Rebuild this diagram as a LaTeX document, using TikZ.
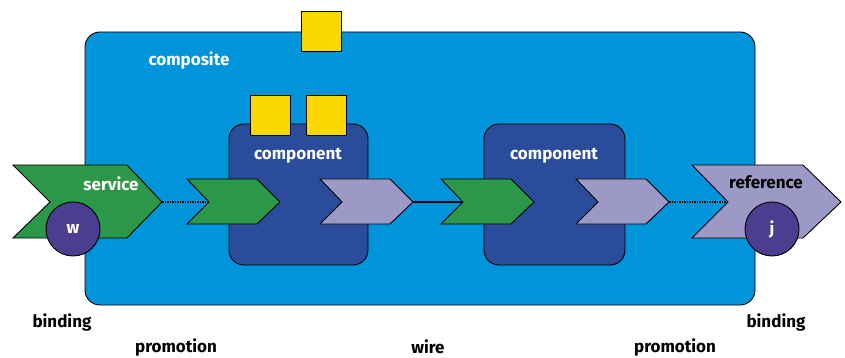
\documentclass[tikz,border=0pt]{standalone}
\usepackage{fontspec}
\setmainfont{Fira Sans}
\usepackage{tikz}
\usetikzlibrary{positioning,calc}
\definecolor{compblue}{HTML}{0095DA}
\definecolor{compnavy}{HTML}{2B4C9B}
\definecolor{portgreen}{HTML}{2A9749}
\definecolor{portlilac}{HTML}{9D99C6}
\definecolor{bindpurple}{HTML}{4B3D8F}
\definecolor{propyellow}{HTML}{F8D800}

\begin{document}
\begin{tikzpicture}[x=1pt,y=-1pt, line width=0.9pt, line join=miter,
  every node/.style={font=\bfseries\fontsize{17}{17}\selectfont,inner sep=0pt},
  prop/.style={draw,fill=propyellow},
  bindcirc/.style={draw,fill=bindpurple,circle,minimum size=54pt,text=white}]
\useasboundingbox (0,0) rectangle (845,358);
% composite and its property
\draw[fill=compblue,rounded corners=15pt] (85,32) rectangle (755,305);
\node[text=white] (composite) at (189,60) {composite};
\draw[prop] (301,11) rectangle (341,51);
% components with their properties
\draw[fill=compnavy,rounded corners=15pt] (229,124) rectangle (368,265);
\draw[fill=compnavy,rounded corners=15pt] (484,124) rectangle (625,265);
\draw[prop] (250,95) rectangle (290,135);
\draw[prop] (306,95) rectangle (346,135);
\node[text=white] (comp1) at (298,156) {component};
\node[text=white] (comp2) at (554,156) {component};
% service and reference of the composite
\draw[fill=portgreen] (13,165) -- (127,165) -- (162,202) coordinate (svc tip)
  -- (127,238) -- (13,238) -- (50,202) -- cycle;
\draw[fill=portlilac] (692,165) -- (803,165) -- (841,202)
  -- (803,238) -- (692,238) -- (728,202) coordinate (ref notch) -- cycle;
\node[text=white] (service) at (111,184) {service};
\node (reference) at (766,182) {reference};
\node[bindcirc] (w) at (73,229) {w};
\node[bindcirc] (j) at (772,229) {j};
% services and references of the components
\draw[fill=portgreen] (187,179) -- ++(70,0) -- ++(23,23) coordinate (s1 tip)
  -- ++(-23,22) -- ++(-70,0) -- ++(22,-22) coordinate (s1 notch) -- cycle;
\draw[fill=portlilac] (320,179) -- ++(70,0) -- ++(23,23) coordinate (r1 tip)
  -- ++(-23,22) -- ++(-70,0) -- ++(22,-22) coordinate (r1 notch) -- cycle;
\draw[fill=portgreen] (441,179) -- ++(70,0) -- ++(23,23) coordinate (s2 tip)
  -- ++(-23,22) -- ++(-70,0) -- ++(22,-22) coordinate (s2 notch) -- cycle;
\draw[fill=portlilac] (576,179) -- ++(70,0) -- ++(23,23) coordinate (r2 tip)
  -- ++(-23,22) -- ++(-70,0) -- ++(22,-22) coordinate (r2 notch) -- cycle;
% promotions and wire
\draw[line width=2.4pt,dash pattern=on 1.5pt off 1pt] (svc tip) -- (s1 notch);
\draw[line width=2pt] (r1 tip) -- (s2 notch);
\draw[line width=2.4pt,dash pattern=on 1.5pt off 1pt] (r2 tip) -- (ref notch);
% captions
\node (bindL) at (62,322) {binding};
\node (bindR) at (776,322) {binding};
\node (promL) at (176,347) {promotion};
\node (wire) at (428,347) {wire};
\node (promR) at (675,347) {promotion};
\end{tikzpicture}
\end{document}
